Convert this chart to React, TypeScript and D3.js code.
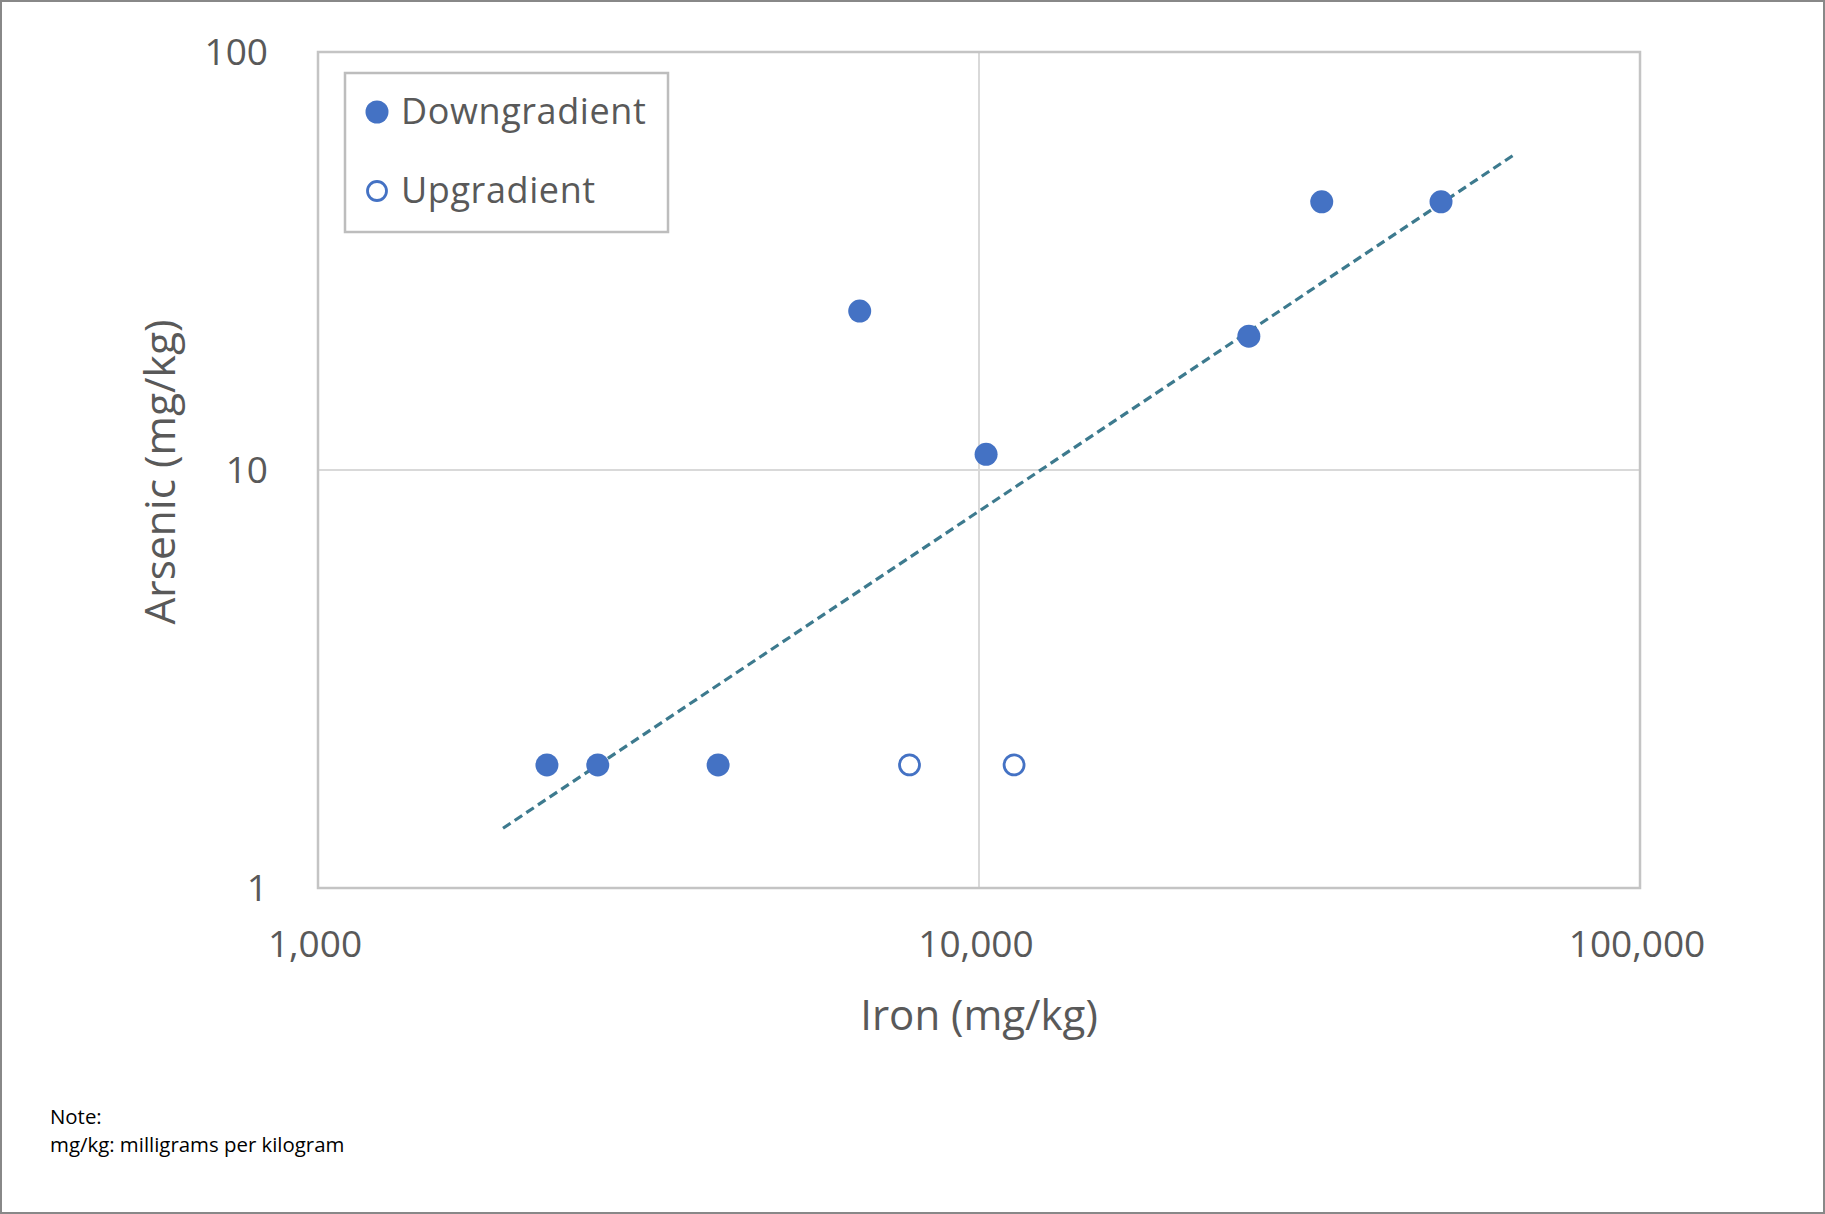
import React from "react";
import * as d3 from "d3";

const downIron = [2220, 2650, 4030, 6600, 10250, 25600, 33000, 50000];
const downArsenic = [1.97, 1.97, 1.97, 24, 10.9, 20.9, 43.8, 43.8];
const upIron = [7850, 11300];
const upArsenic = [1.97, 1.97];
const trendIron = [1905, 64300];
const trendArsenic = [1.39, 56.6];
const xTicks = [1000, 10000, 100000];
const yTicks = [1, 10, 100];
const legendLabels = ["Downgradient", "Upgradient"];
const noteLines = ["Note:", "mg/kg: milligrams per kilogram"];

const W = 1825;
const H = 1214;
const plot = { left: 318, right: 1640, top: 52, bottom: 888 };
const BLUE = "#4472C4";
const TEXT = "#595959";
const FONT = "'Open Sans', 'Noto Sans', sans-serif";

export default function App() {
  const x = d3.scaleLog().domain([1000, 100000]).range([plot.left, plot.right]);
  const y = d3.scaleLog().domain([1, 100]).range([plot.bottom, plot.top]);
  const fmt = d3.format(",");
  const trendPts: [number, number][] = trendIron.map((v, i) => [x(v), y(trendArsenic[i])]);
  const line = d3.line();

  return (
    <div style={{ position: "absolute", left: 0, top: 0 }}>
      <svg width={W} height={H} style={{ display: "block" }} fontFamily={FONT}>
        <rect x={0} y={0} width={W} height={H} fill="#fff" />
        <rect x={1} y={1} width={W - 2} height={H - 2} fill="none" stroke="#888" strokeWidth={2} />
        {/* gridlines */}
        {xTicks.slice(1, -1).map((t) => (
          <line key={"gx" + t} x1={x(t)} x2={x(t)} y1={plot.top} y2={plot.bottom} stroke="#d9d9d9" strokeWidth={2} />
        ))}
        {yTicks.slice(1, -1).map((t) => (
          <line key={"gy" + t} y1={y(t)} y2={y(t)} x1={plot.left} x2={plot.right} stroke="#d9d9d9" strokeWidth={2} />
        ))}
        <rect x={plot.left} y={plot.top} width={plot.right - plot.left} height={plot.bottom - plot.top} fill="none" stroke="#c4c4c4" strokeWidth={2.5} />
        {/* tick labels */}
        {yTicks.map((t) => (
          <text key={"yt" + t} x={268} y={y(t)} dy="0.36em" textAnchor="end" fontSize={37} fill={TEXT}>{fmt(t)}</text>
        ))}
        {xTicks.map((t) => (
          <text key={"xt" + t} x={x(t) - 3} y={957} textAnchor="middle" fontSize={37} fill={TEXT}>{fmt(t)}</text>
        ))}
        {/* axis titles */}
        <text x={(plot.left + plot.right) / 2} y={1030} textAnchor="middle" fontSize={42} fill={TEXT}>Iron (mg/kg)</text>
        <text transform={`translate(175,${(plot.top + plot.bottom) / 2 + 2}) rotate(-90)`} textAnchor="middle" fontSize={42.5} fill={TEXT}>Arsenic (mg/kg)</text>
        {/* trendline */}
        <path d={line(trendPts) || ""} fill="none" stroke="#3d7a8e" strokeWidth={3.2} strokeDasharray="9,5" />
        {/* points */}
        {downIron.map((v, i) => (
          <circle key={"d" + i} cx={x(v)} cy={y(downArsenic[i])} r={11.5} fill={BLUE} />
        ))}
        {upIron.map((v, i) => (
          <circle key={"u" + i} cx={x(v)} cy={y(upArsenic[i])} r={10} fill="#fff" stroke={BLUE} strokeWidth={2.8} />
        ))}
        {/* legend */}
        <rect x={345} y={73} width={323} height={159} fill="#fff" stroke="#bdbdbd" strokeWidth={2.5} />
        <circle cx={377} cy={112} r={11.5} fill={BLUE} />
        <circle cx={377} cy={191} r={9.5} fill="#fff" stroke={BLUE} strokeWidth={2.8} />
        <text x={401} y={124} fontSize={36} letterSpacing={0.6} fill={TEXT}>{legendLabels[0]}</text>
        <text x={401} y={203} fontSize={36} letterSpacing={0.6} fill={TEXT}>{legendLabels[1]}</text>
        {/* note */}
        {noteLines.map((t, i) => (
          <text key={"n" + i} x={50} y={1124 + i * 28} fontSize={20.4} fill="#000">{t}</text>
        ))}
      </svg>
    </div>
  );
}
